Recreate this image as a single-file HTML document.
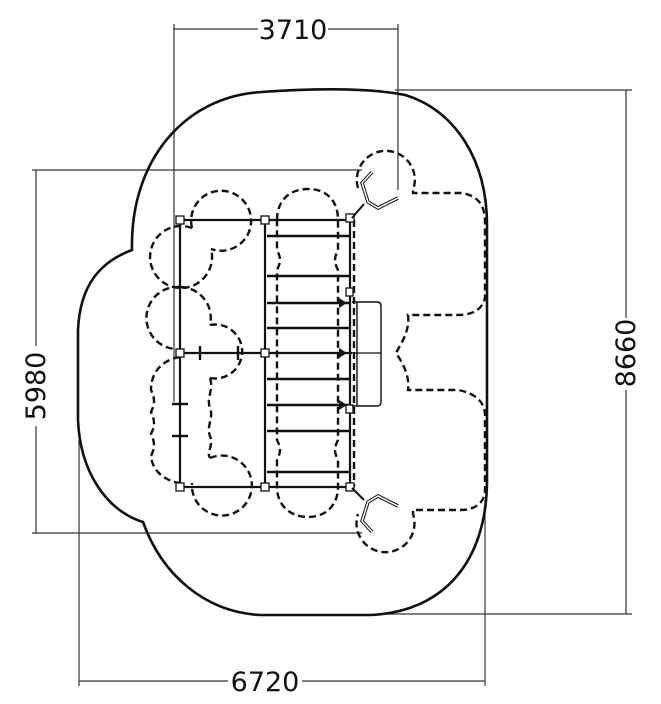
<!DOCTYPE html>
<html><head><meta charset="utf-8"><style>
html,body{margin:0;padding:0;background:#fff}
svg{display:block}
text{font-family:"DejaVu Sans","Liberation Sans",sans-serif;font-size:27px;fill:#111}
</style></head><body>
<svg width="661" height="704" viewBox="0 0 661 704" xmlns="http://www.w3.org/2000/svg">
<rect width="661" height="704" fill="#fff"/>
<g stroke="#333" stroke-width="1.2" fill="none">
<line x1="173" y1="29" x2="258" y2="29"/><line x1="328" y1="29" x2="398" y2="29"/>
<line x1="174" y1="24" x2="174" y2="402"/><line x1="398" y1="24" x2="398" y2="190"/>
<line x1="395" y1="90" x2="632" y2="90"/><line x1="380" y1="614" x2="632" y2="614"/>
<line x1="626" y1="90" x2="626" y2="318"/><line x1="626" y1="390" x2="626" y2="614"/>
<line x1="32" y1="170" x2="362" y2="170"/><line x1="32" y1="533" x2="362" y2="533"/>
<line x1="36" y1="170" x2="36" y2="346"/><line x1="36" y1="426" x2="36" y2="533"/>
<line x1="79" y1="440" x2="79" y2="686"/><line x1="485" y1="500" x2="485" y2="686"/>
<line x1="79" y1="681" x2="228" y2="681"/><line x1="302" y1="681" x2="485" y2="681"/>
</g>
<text x="293" y="39" text-anchor="middle">3710</text>
<text x="265" y="691" text-anchor="middle">6720</text>
<text transform="translate(45,386) rotate(-90)" text-anchor="middle">5980</text>
<text transform="translate(635,353) rotate(-90)" text-anchor="middle">8660</text>
<path d="M262,92 C320,88 370,88 405,95 C455,110 487,160 487,225 L487,480 C487,560 445,612 370,615 L260,615 C205,612 162,575 143,522 C105,510 80,470 78,420 L78,330 C80,285 100,262 132,250 C130,160 185,96 262,92 Z" fill="none" stroke="#111" stroke-width="2.6"/>
<g fill="none" stroke="#111" stroke-width="2.4" stroke-dasharray="7,4">
<path d="M358,188 A29,29 0 1 1 413,190 L413,193 L462,193 C478,196 485,205 485,222 L485,298 C482,310 472,315 458,315 L408,315 C410,330 402,342 396,353 C402,362 410,375 408,390 L458,390 C475,393 485,402 485,415 L485,490 C485,502 476,510 460,510 L413,510 L413,514 A29,29 0 1 1 358,514"/>
<line x1="354" y1="220" x2="354" y2="487"/>
<path d="M277,220 C277,200 290,189 308,189 C326,189 338,200 338,220 L338,250 C334,258 334,262 338,270 L338,440 C334,448 334,452 338,460 L338,487 C338,505 326,517 308,517 C290,517 277,505 277,487 L277,460 C281,452 281,448 277,440 L277,270 C281,262 281,258 277,250 Z"/>
<path d="M192,228 A30,30 0 1 1 211,249"/>
<path d="M192,228 A31,31 0 1 0 211,249"/>
<path d="M180,287 A31,31 0 0 0 175,349"/>
<path d="M180,287 A31,31 0 0 1 210,325"/>
<path d="M210,325 A27,27 0 1 1 210,378"/>
<path d="M210,378 C214,390 206,398 210,408 C214,418 206,426 210,436 C214,446 206,452 210,458"/>
<path d="M210,458 A30,30 0 1 1 192,483"/>
<path d="M180,357 C162,360 151,372 151,390 C155,398 155,404 151,412 C155,420 155,426 151,434 C155,442 155,448 151,456 C152,470 164,481 180,483"/>
</g>
<g stroke="#111" fill="none">
<g stroke-width="2.2">
<line x1="180" y1="220" x2="350" y2="220"/><line x1="180" y1="487" x2="350" y2="487"/>
<line x1="180" y1="220" x2="180" y2="487"/><line x1="265" y1="220" x2="265" y2="487"/>
<line x1="350" y1="218" x2="350" y2="487"/>
<line x1="180" y1="353" x2="352" y2="353"/>
</g>
<g stroke-width="2.4">
<line x1="267" y1="236" x2="350" y2="236"/><line x1="267" y1="276" x2="350" y2="276"/>
<line x1="267" y1="303" x2="350" y2="303"/><line x1="267" y1="328" x2="350" y2="328"/>
<line x1="267" y1="379" x2="350" y2="379"/><line x1="267" y1="405" x2="350" y2="405"/>
<line x1="267" y1="431" x2="350" y2="431"/><line x1="267" y1="472" x2="350" y2="472"/>
<line x1="200" y1="346" x2="200" y2="360"/><line x1="238" y1="346" x2="238" y2="360"/>
<line x1="172" y1="404" x2="188" y2="404"/><line x1="172" y1="436" x2="188" y2="436"/>
</g>
<g fill="#111" stroke="none">
<path d="M339,298 L347,303 L339,308 Z"/>
<path d="M339,348 L347,353 L339,358 Z"/>
<path d="M339,400 L347,405 L339,410 Z"/>
</g>
<g stroke-width="1.3" fill="#fff">
<rect x="176" y="216" width="8" height="8"/><rect x="261" y="216" width="8" height="8"/><rect x="346" y="214" width="8" height="8"/>
<rect x="176" y="349" width="8" height="8"/><rect x="261" y="349" width="8" height="8"/>
<rect x="176" y="483" width="8" height="8"/><rect x="261" y="483" width="8" height="8"/><rect x="346" y="483" width="8" height="8"/>
<rect x="346" y="288" width="7" height="8"/><rect x="346" y="405" width="7" height="8"/>
</g>
<path d="M352,302 L377,302 Q381,302 381,306 L381,402 Q381,406 377,406 L352,406" stroke-width="1.4"/>
<line x1="357" y1="302" x2="357" y2="406" stroke-width="1.4"/>
<line x1="352" y1="353" x2="381" y2="353" stroke-width="1.2"/>
<path d="M372,172 L362,183 L368,202 L378,208 L398,198" stroke-width="3.5"/>
<path d="M372,172 L362,183 L368,202 L378,208 L398,198" stroke="#fff" stroke-width="1.5"/>
<line x1="352" y1="218" x2="364" y2="204" stroke-width="2"/>
<path d="M398,506 L378,496 L368,502 L362,521 L372,532" stroke-width="3.5"/>
<path d="M398,506 L378,496 L368,502 L362,521 L372,532" stroke="#fff" stroke-width="1.5"/>
<line x1="352" y1="488" x2="364" y2="500" stroke-width="2"/>
</g>
</svg>
</body></html>
